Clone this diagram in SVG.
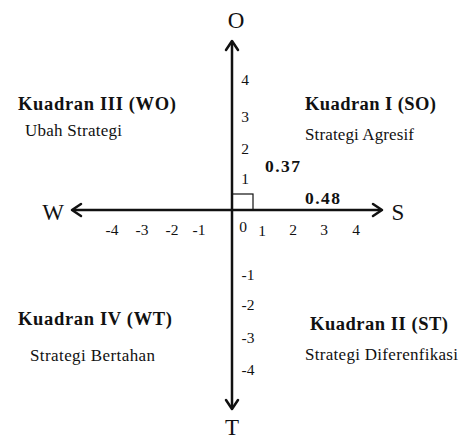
<svg xmlns="http://www.w3.org/2000/svg" width="465" height="441" viewBox="0 0 465 441">
<style>
text{font-family:"Liberation Serif","DejaVu Serif","Times New Roman",serif;fill:#111}
.t{font-size:17px}
.b{font-size:18.5px;font-weight:bold}
.v{font-size:17.5px;font-weight:bold}
.ax{font-size:23px}
.n{font-size:15.5px}
.axis{stroke:#111;stroke-width:2.5;fill:none}
.head{stroke:#111;stroke-width:2.5;fill:none;stroke-linecap:round;stroke-linejoin:round}
</style>
<rect width="465" height="441" fill="#fff"/>
<g id="connectors">
<line class="axis" x1="232" y1="42" x2="232" y2="408"/>
<polyline class="head" points="226,50 232,41 238,50"/>
<polyline class="head" points="226,400 232,409 238,400"/>
<line class="axis" x1="73" y1="210" x2="381" y2="210"/>
<polyline class="head" points="81,204 72,210 81,216"/>
<polyline class="head" points="373,204 382,210 373,216"/>
<rect x="232" y="194" width="21" height="16" fill="none" stroke="#111" stroke-width="1.2"/>
</g>
<g id="axis-labels">
<text class="ax" x="236" y="28" text-anchor="middle">O</text>
<text class="ax" x="232" y="435" text-anchor="middle" font-size="20">T</text>
<text class="ax" x="53" y="220" text-anchor="middle">W</text>
<text class="ax" x="398" y="220" text-anchor="middle">S</text>
</g>
<g id="ticks">
<text class="n" x="245" y="85" text-anchor="middle">4</text>
<text class="n" x="245" y="122" text-anchor="middle">3</text>
<text class="n" x="245" y="154" text-anchor="middle">2</text>
<text class="n" x="245" y="184" text-anchor="middle">1</text>
<text class="n" x="243" y="232" text-anchor="middle">0</text>
<text class="n" x="262" y="236" text-anchor="middle">1</text>
<text class="n" x="293" y="235" text-anchor="middle">2</text>
<text class="n" x="324" y="235" text-anchor="middle">3</text>
<text class="n" x="356" y="235" text-anchor="middle">4</text>
<text class="n" x="112" y="235" text-anchor="middle">-4</text>
<text class="n" x="142" y="235" text-anchor="middle">-3</text>
<text class="n" x="172" y="235" text-anchor="middle">-2</text>
<text class="n" x="199" y="235" text-anchor="middle">-1</text>
<text class="n" x="248" y="280" text-anchor="middle">-1</text>
<text class="n" x="248" y="310" text-anchor="middle">-2</text>
<text class="n" x="248" y="343" text-anchor="middle">-3</text>
<text class="n" x="248" y="375" text-anchor="middle">-4</text>
</g>
<g id="values">
<text class="v" x="265" y="172" textLength="35" lengthAdjust="spacing">0.37</text>
<text class="v" x="305" y="204" textLength="35" lengthAdjust="spacing">0.48</text>
</g>
<g id="q3">
<text class="b" x="18" y="110" textLength="158" lengthAdjust="spacing">Kuadran III (WO)</text>
<text class="t" x="25" y="136" textLength="97" lengthAdjust="spacing">Ubah Strategi</text>
</g>
<g id="q1">
<text class="b" x="305" y="110" textLength="131" lengthAdjust="spacing">Kuadran I (SO)</text>
<text class="t" x="305" y="140" textLength="109" lengthAdjust="spacing">Strategi Agresif</text>
</g>
<g id="q4">
<text class="b" x="18" y="325" textLength="154" lengthAdjust="spacing">Kuadran IV (WT)</text>
<text class="t" x="30" y="361" textLength="125" lengthAdjust="spacing">Strategi Bertahan</text>
</g>
<g id="q2">
<text class="b" x="310" y="330" textLength="138" lengthAdjust="spacing">Kuadran II (ST)</text>
<text class="t" x="305" y="360" textLength="153" lengthAdjust="spacing">Strategi Diferenfikasi</text>
</g>
</svg>
